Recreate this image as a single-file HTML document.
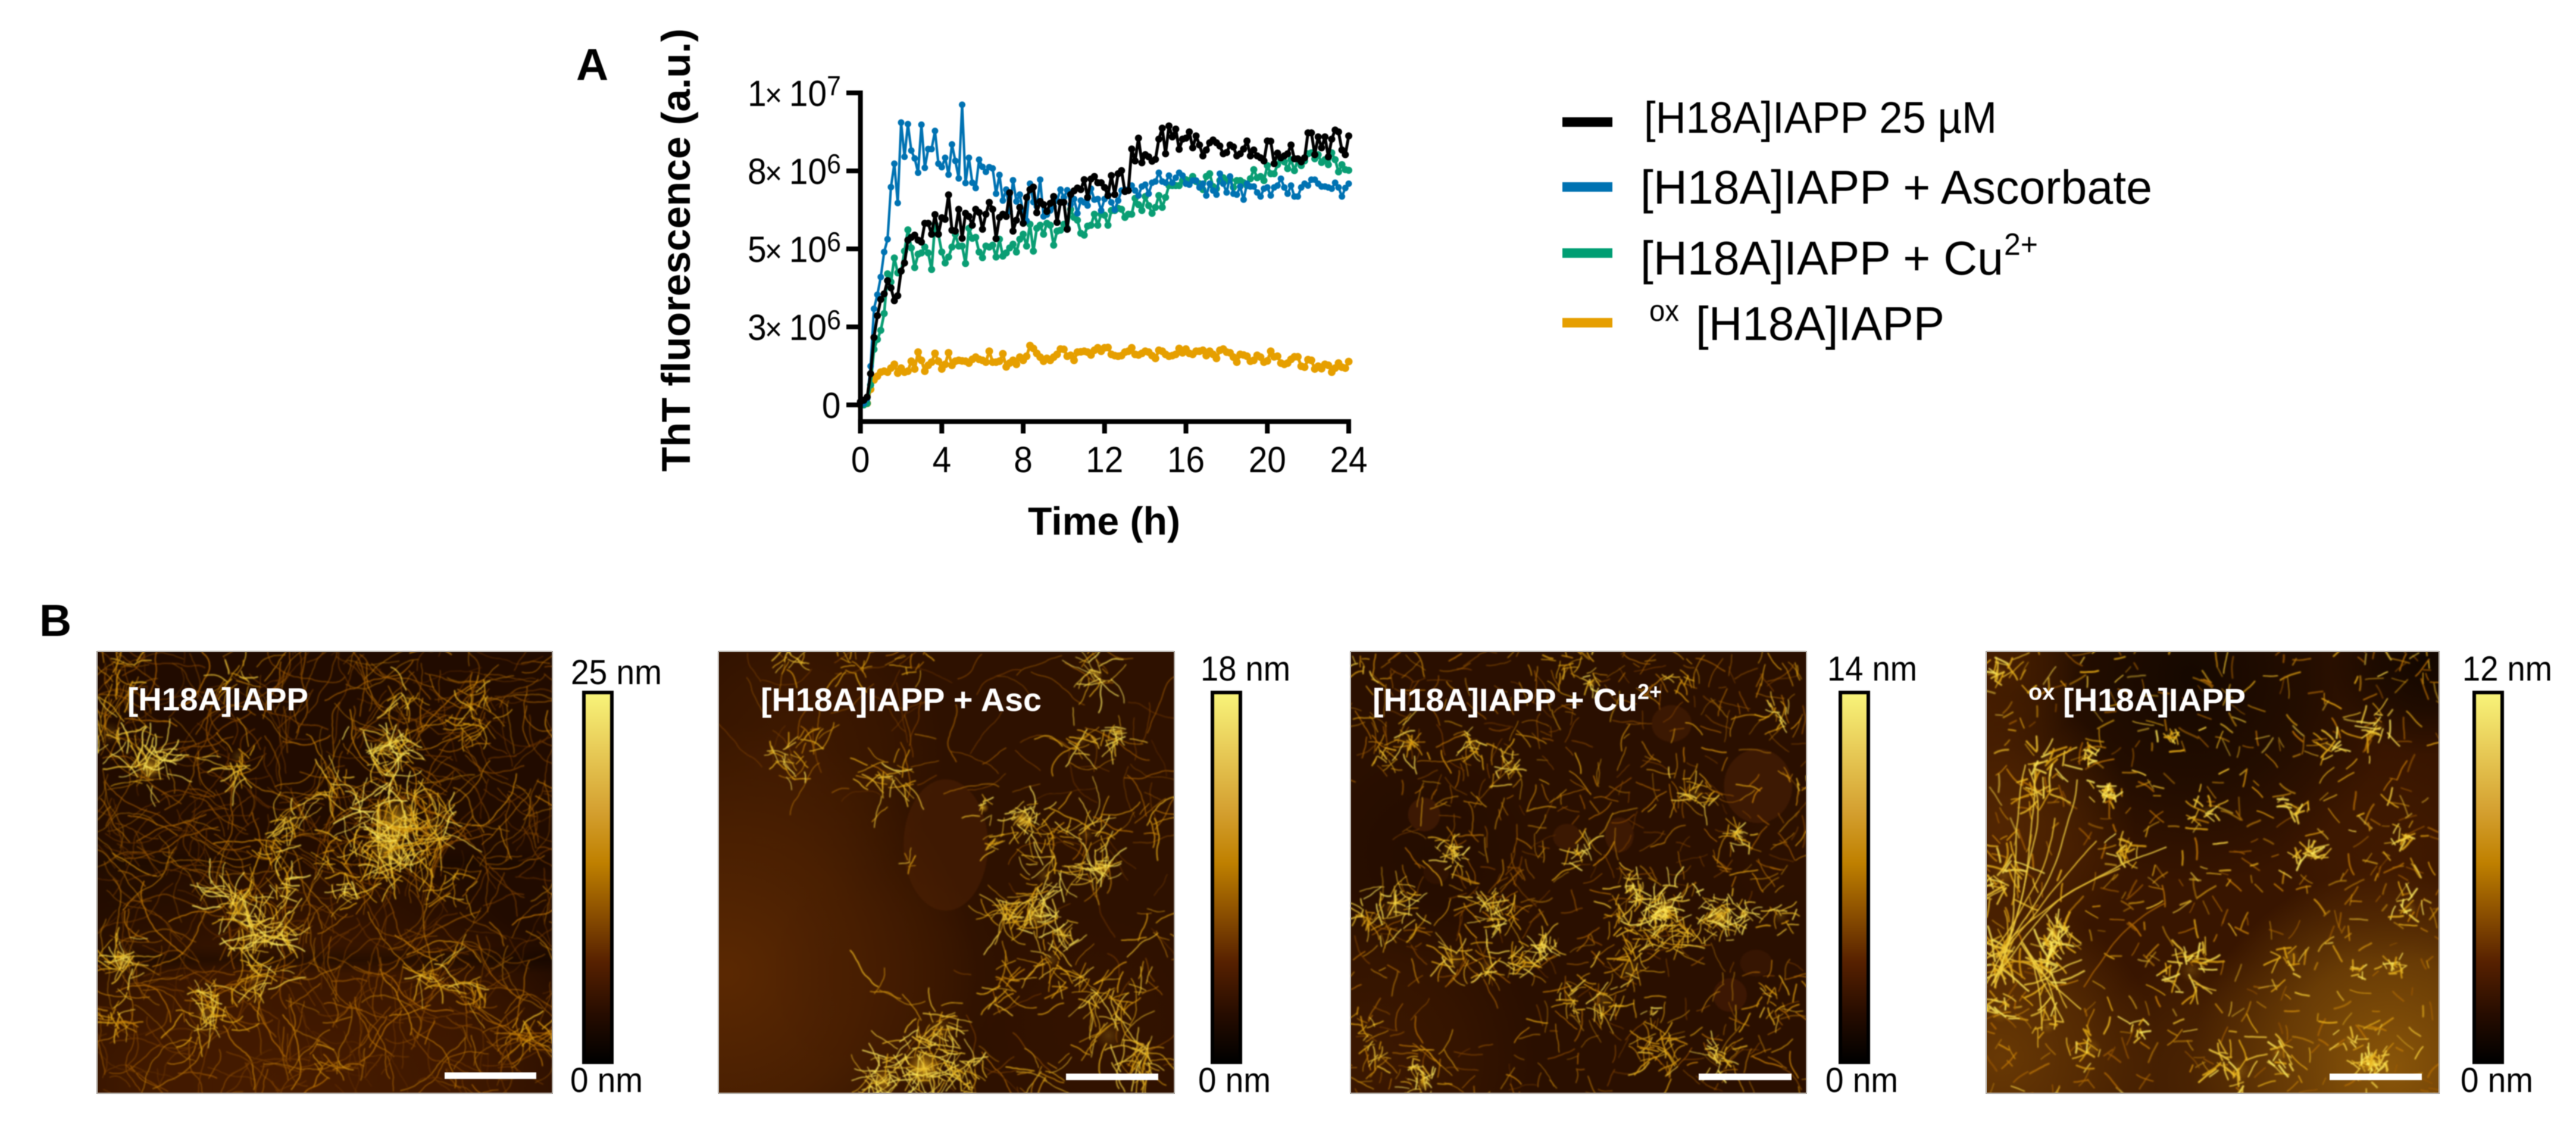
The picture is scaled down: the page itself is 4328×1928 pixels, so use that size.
<!DOCTYPE html>
<html lang="en">
<head>
<meta charset="utf-8">
<title>[H18A]IAPP ThT fluorescence and AFM panels</title>
<style>
html,body{margin:0;padding:0;background:#fff;}
#stage{position:relative;width:4328px;height:1928px;overflow:hidden;background:#fff;font-family:"Liberation Sans",Arial,sans-serif;}
canvas{position:absolute;display:block;filter:blur(1.1px);}
.frame{position:absolute;box-sizing:border-box;border:2px solid #b5b0aa;}
svg{position:absolute;left:0;top:0;filter:blur(0.8px);}
text{font-family:"Liberation Sans",Arial,sans-serif;}
</style>
</head>
<body>
<div id="stage">
  <canvas id="afm1" width="765" height="742" style="left:163px;top:1094px"></canvas>
  <canvas id="afm2" width="766" height="742" style="left:1207px;top:1094px"></canvas>
  <canvas id="afm3" width="766" height="742" style="left:2269px;top:1094px"></canvas>
  <canvas id="afm4" width="761" height="742" style="left:3337px;top:1094px"></canvas>
  <div class="frame" style="left:162px;top:1093px;width:767px;height:744px"></div>
  <div class="frame" style="left:1206px;top:1093px;width:768px;height:744px"></div>
  <div class="frame" style="left:2268px;top:1093px;width:768px;height:744px"></div>
  <div class="frame" style="left:3336px;top:1093px;width:763px;height:744px"></div>

  <svg id="fig" width="4328" height="1928" viewBox="0 0 4328 1928" xmlns="http://www.w3.org/2000/svg">
    <defs>
      <linearGradient id="cbar" x1="0" y1="0" x2="0" y2="1">
        <stop offset="0" stop-color="#f8f47a"/>
        <stop offset="0.15" stop-color="#e8cc58"/>
        <stop offset="0.32" stop-color="#d4a030"/>
        <stop offset="0.46" stop-color="#bf8000"/>
        <stop offset="0.6" stop-color="#8a4e00"/>
        <stop offset="0.73" stop-color="#562000"/>
        <stop offset="0.87" stop-color="#260c00"/>
        <stop offset="1" stop-color="#000"/>
      </linearGradient>
    </defs>

    <text x="968" y="134" font-size="75" font-weight="700">A</text>
    <text x="66" y="1068" font-size="75" font-weight="700">B</text>

    <g id="chart"></g>

    <text transform="translate(1159,420) rotate(-90)" text-anchor="middle" font-size="68" font-weight="700">ThT fluorescence (a.u.)</text>
    <text x="1855" y="898" text-anchor="middle" font-size="66" font-weight="700" textLength="256" lengthAdjust="spacingAndGlyphs">Time (h)</text>

    <g>
      <rect x="2625" y="197" width="84" height="16" fill="#000"/>
      <text x="2762" y="223" font-size="74" textLength="593" lengthAdjust="spacingAndGlyphs">[H18A]IAPP 25 µM</text>
      <rect x="2625" y="306" width="84" height="16" fill="#0072b2"/>
      <text x="2756" y="342" font-size="80" textLength="860" lengthAdjust="spacingAndGlyphs">[H18A]IAPP + Ascorbate</text>
      <rect x="2625" y="417" width="84" height="16" fill="#009e73"/>
      <text x="2756" y="461" font-size="80" textLength="610" lengthAdjust="spacingAndGlyphs">[H18A]IAPP + Cu</text>
      <text x="3367" y="428" font-size="52" textLength="57" lengthAdjust="spacingAndGlyphs">2+</text>
      <rect x="2625" y="534" width="84" height="16" fill="#e69f00"/>
      <text x="2771" y="539" font-size="50" textLength="50" lengthAdjust="spacingAndGlyphs">ox</text>
      <text x="2849" y="571" font-size="80" textLength="418" lengthAdjust="spacingAndGlyphs">[H18A]IAPP</text>
    </g>

    <!-- panel 1 -->
    <text x="214" y="1193" font-size="54" font-weight="700" fill="#fff" textLength="304" lengthAdjust="spacingAndGlyphs">[H18A]IAPP</text>
    <rect x="747" y="1801" width="154" height="11" fill="#fff"/>
    <rect x="981" y="1163" width="47" height="621" fill="url(#cbar)" stroke="#000" stroke-width="6"/>
    <text x="959" y="1149" font-size="58" textLength="153" lengthAdjust="spacingAndGlyphs">25 nm</text>
    <text x="958" y="1834" font-size="58" textLength="122" lengthAdjust="spacingAndGlyphs">0 nm</text>

    <!-- panel 2 -->
    <text x="1278" y="1194" font-size="55" font-weight="700" fill="#fff" textLength="472" lengthAdjust="spacingAndGlyphs">[H18A]IAPP + Asc</text>
    <rect x="1791" y="1803" width="155" height="11" fill="#fff"/>
    <rect x="2037" y="1163" width="47" height="621" fill="url(#cbar)" stroke="#000" stroke-width="6"/>
    <text x="2017" y="1143" font-size="58" textLength="151" lengthAdjust="spacingAndGlyphs">18 nm</text>
    <text x="2013" y="1834" font-size="58" textLength="122" lengthAdjust="spacingAndGlyphs">0 nm</text>

    <!-- panel 3 -->
    <text x="2306" y="1194" font-size="54" font-weight="700" fill="#fff" textLength="445" lengthAdjust="spacingAndGlyphs">[H18A]IAPP + Cu</text>
    <text x="2751" y="1174" font-size="36" font-weight="700" fill="#fff">2+</text>
    <rect x="2854" y="1803" width="156" height="11" fill="#fff"/>
    <rect x="3092" y="1163" width="47" height="621" fill="url(#cbar)" stroke="#000" stroke-width="6"/>
    <text x="3070" y="1143" font-size="58" textLength="151" lengthAdjust="spacingAndGlyphs">14 nm</text>
    <text x="3067" y="1834" font-size="58" textLength="122" lengthAdjust="spacingAndGlyphs">0 nm</text>

    <!-- panel 4 -->
    <text x="3408" y="1175" font-size="38" font-weight="700" fill="#fff">ox</text>
    <text x="3466" y="1194" font-size="54" font-weight="700" fill="#fff" textLength="307" lengthAdjust="spacingAndGlyphs">[H18A]IAPP</text>
    <rect x="3914" y="1803" width="155" height="11" fill="#fff"/>
    <rect x="4157" y="1163" width="47" height="621" fill="url(#cbar)" stroke="#000" stroke-width="6"/>
    <text x="4137" y="1143" font-size="58" textLength="151" lengthAdjust="spacingAndGlyphs">12 nm</text>
    <text x="4134" y="1834" font-size="58" textLength="122" lengthAdjust="spacingAndGlyphs">0 nm</text>
  </svg>
</div>

<script>
/* ---------- chart data (units of 1e6 a.u., one reading every 10 min) ---------- */
var xTicks = [0, 4, 8, 12, 16, 20, 24];
var yTicks = [0, 2.5, 5, 7.5, 10];
var yTickMantissa = ['0', '3', '5', '8', '1'];
var yTickExponent = ['', '6', '6', '6', '7'];
var seriesNames = ['oxidised', 'copper', 'ascorbate', 'h18a'];

var h18aValues = [0.1,0.15,0.25,1.0,2.16,2.86,3.38,3.56,3.98,3.75,3.34,3.5,4.29,4.55,5.28,5.37,5.44,5.28,5.22,5.82,5.82,5.47,6.1,5.47,6.0,5.95,6.73,5.6,5.57,6.27,5.34,6.14,6.04,5.76,6.27,6.17,5.63,6.11,6.49,6.27,5.33,6.01,6.11,6.04,6.8,5.57,5.92,6.33,5.82,6.65,6.9,6.98,6.16,6.52,6.42,6.2,6.46,6.68,5.85,6.49,6.49,5.63,6.74,6.86,6.95,6.9,7.22,6.65,7.24,7.32,7.12,7.12,6.97,6.71,7.35,6.74,7.41,7.51,6.84,6.87,8.2,7.82,8.55,7.76,8.02,7.95,7.81,7.87,8.52,8.87,8.05,8.94,8.59,8.84,8.19,8.52,8.55,8.75,8.24,8.62,8.33,7.98,8.17,8.4,8.49,8.4,8.3,8.05,8.09,8.33,8.27,7.98,8.05,8.2,8.46,7.98,8.17,7.98,7.92,7.82,8.46,8.45,7.73,8.07,7.92,7.98,8.05,8.33,7.89,7.89,7.79,7.92,8.72,8.72,8.02,8.59,8.24,8.59,7.95,8.52,8.81,8.75,8.17,8.02,8.62];

var ascorbateValues = [0.0,0.05,0.2,1.24,3.08,3.53,4.1,4.9,5.31,6.98,7.73,6.47,9.05,7.95,9.0,8.15,7.9,7.44,8.98,7.6,8.2,8.2,8.78,7.73,7.62,7.92,7.38,8.35,7.82,7.26,9.62,7.11,7.92,7.12,6.95,7.86,7.63,7.47,7.62,7.58,6.77,7.37,6.55,6.9,6.2,7.2,6.52,6.74,6.17,5.9,7.09,6.5,6.36,7.22,6.04,6.1,6.23,6.36,6.55,6.9,6.65,6.88,6.42,6.6,6.14,6.55,6.49,6.39,6.93,6.58,6.6,6.23,6.6,6.74,6.49,6.25,6.55,6.87,6.9,6.87,7.03,6.87,6.71,7.0,7.06,6.77,7.12,7.16,7.44,7.16,7.12,7.35,7.12,7.28,7.44,7.35,7.09,7.06,7.19,7.19,6.97,7.09,6.71,7.09,6.87,6.74,7.41,7.09,6.81,7.32,6.77,6.74,7.0,6.58,7.09,7.0,7.0,6.81,6.68,6.93,6.97,6.71,6.97,7.03,7.25,6.97,6.77,7.03,6.68,6.68,6.97,7.09,7.03,7.22,7.22,7.09,7.0,7.0,6.97,6.93,7.12,6.97,6.68,6.95,7.09];

var copperValues = [0.0,0.0,0.05,0.64,1.78,2.1,2.39,2.93,4.2,3.94,4.71,4.23,4.29,4.93,5.61,5.03,4.4,4.83,4.87,5.06,4.87,4.34,5.79,5.47,4.9,4.55,4.74,5.06,5.47,5.09,5.09,4.53,5.66,5.34,5.37,4.9,4.72,5.09,5.06,5.12,4.74,5.31,4.77,4.87,5.03,5.15,4.9,5.31,5.47,5.09,5.79,4.93,5.66,5.76,5.47,5.82,5.76,5.12,5.57,5.6,5.79,5.66,6.27,6.01,5.92,5.5,5.44,5.73,5.76,6.11,5.76,6.11,6.08,5.76,6.23,6.23,6.3,6.27,6.01,6.11,6.11,6.62,6.42,6.23,6.68,6.39,6.14,6.33,6.71,6.33,6.65,7.03,7.03,7.03,7.03,7.19,7.22,7.19,7.32,7.16,7.09,6.9,7.32,7.41,7.0,6.93,7.19,7.28,7.19,7.22,6.97,7.19,7.19,7.12,7.03,7.25,7.54,7.28,7.32,7.19,7.67,7.41,7.41,7.7,7.86,7.79,7.57,7.86,7.51,7.86,7.67,7.82,8.05,8.08,7.89,8.02,7.77,7.86,7.7,8.08,7.86,7.47,7.7,7.54,7.52];

var oxidisedValues = [0.0,0.03,0.05,0.5,0.8,0.92,1.05,1.08,1.05,1.18,1.3,1.02,1.18,1.05,1.08,1.4,1.15,1.69,1.43,1.08,1.27,1.37,1.65,1.4,1.15,1.3,1.67,1.27,1.4,1.43,1.41,1.4,1.34,1.46,1.53,1.46,1.43,1.37,1.72,1.37,1.37,1.4,1.64,1.22,1.34,1.43,1.3,1.53,1.43,1.56,1.9,1.81,1.65,1.53,1.4,1.49,1.43,1.53,1.62,1.79,1.78,1.56,1.59,1.43,1.69,1.7,1.72,1.69,1.6,1.75,1.83,1.72,1.83,1.84,1.62,1.58,1.56,1.58,1.69,1.72,1.83,1.62,1.6,1.65,1.72,1.69,1.58,1.49,1.75,1.72,1.62,1.56,1.58,1.62,1.81,1.67,1.79,1.65,1.62,1.72,1.72,1.75,1.58,1.72,1.62,1.49,1.75,1.79,1.69,1.67,1.53,1.37,1.62,1.6,1.56,1.4,1.43,1.59,1.53,1.37,1.41,1.72,1.54,1.56,1.34,1.3,1.34,1.46,1.54,1.54,1.24,1.21,1.45,1.43,1.15,1.24,1.16,1.3,1.27,1.05,1.18,1.34,1.21,1.18,1.39];

var seriesColors = ['#e69f00', '#0a9e74', '#0072b2', '#000000'];
var seriesWidths = [5, 4.6, 4.2, 5];
var seriesRadii = [6.5, 6, 5.5, 6];
var seriesValues = [oxidisedValues, copperValues, ascorbateValues, h18aValues];

var HOURS_MAX = 24;
var VALUE_MAX = 10;
var PLOT_LEFT = 1445.6, PLOT_RIGHT = 2266, PLOT_ZERO = 680, PLOT_TOP = 156;

function xScale(h) { return PLOT_LEFT + (PLOT_RIGHT - PLOT_LEFT) * h / HOURS_MAX; }
function yScale(v) { return PLOT_ZERO - (PLOT_ZERO - PLOT_TOP) * v / VALUE_MAX; }

var SVGNS = 'http://www.w3.org/2000/svg';
var chart = document.getElementById('chart');

function svgEl(tag, attrs) {
  var node = document.createElementNS(SVGNS, tag);
  for (var k in attrs) node.setAttribute(k, attrs[k]);
  return node;
}

seriesValues.forEach(function (vals, s) {
  var group = svgEl('g', {});
  
  
  var step = HOURS_MAX / (vals.length - 1);
  var pts = vals.map(function (v, i) { return xScale(i * step).toFixed(1) + ',' + yScale(v).toFixed(1); }).join(' ');
  var line = svgEl('polyline', { points: pts, fill: 'none', stroke: seriesColors[s], 'stroke-width': seriesWidths[s], 'stroke-linejoin': 'round' });
  
  
  group.appendChild(line);
  vals.forEach(function (v, i) {
    var dot = svgEl('circle', { cx: xScale(i * step).toFixed(1), cy: yScale(v).toFixed(1), r: seriesRadii[s], fill: seriesColors[s] });
    
    
    group.appendChild(dot);
  });
  chart.appendChild(group);
});

/* axes */
var yAxis = svgEl('rect', { x: PLOT_LEFT - 4, y: yScale(VALUE_MAX) - 4, width: 8, height: 728 - yScale(VALUE_MAX) + 4, fill: '#000' });


chart.appendChild(yAxis);
var xAxis = svgEl('rect', { x: PLOT_LEFT - 4, y: 704, width: PLOT_RIGHT - PLOT_LEFT + 8, height: 8, fill: '#000' });


chart.appendChild(xAxis);

xTicks.forEach(function (t) {
  var tick = svgEl('rect', { x: xScale(t) - 4, y: 704, width: 8, height: 24, fill: '#000' });
  
  
  chart.appendChild(tick);
  var lab = svgEl('text', { transform: 'translate(' + xScale(t) + ',793) scale(0.93,1)', 'text-anchor': 'middle', 'font-size': 61 });
  lab.textContent = String(t);
  
  
  chart.appendChild(lab);
});

yTicks.forEach(function (t, i) {
  var yy = yScale(t);
  var tick = svgEl('rect', { x: 1422, y: yy - 4, width: 24, height: 8, fill: '#000' });
  
  
  chart.appendChild(tick);
  var g = svgEl('text', { transform: 'translate(1418,' + (yy + 22) + ') scale(0.93,1)', 'font-size': 61 });
  
  
  if (yTickExponent[i] === '') {
    g.setAttribute('x', -6);
    g.setAttribute('text-anchor', 'end');
    g.textContent = yTickMantissa[i];
  } else {
    var m = svgEl('tspan', { x: -174 });
    m.textContent = yTickMantissa[i];
    var cross = svgEl('tspan', { x: -143, 'font-size': 54 });
    cross.textContent = '\u00d7';
    var ten = svgEl('tspan', { x: -99 });
    ten.textContent = '10';
    var sup = svgEl('tspan', { x: -31, dy: -18, 'font-size': 46 });
    sup.textContent = yTickExponent[i];
    g.appendChild(m); g.appendChild(cross); g.appendChild(ten); g.appendChild(sup);
  }
  chart.appendChild(g);
});

/* ---------- AFM micrograph textures (procedural fibril rendering) ---------- */
function mulberry(seed) {
  return function () {
    seed |= 0; seed = seed + 0x6D2B79F5 | 0;
    var t = Math.imul(seed ^ seed >>> 15, 1 | seed);
    t = t + Math.imul(t ^ t >>> 7, 61 | t) ^ t;
    return ((t ^ t >>> 14) >>> 0) / 4294967296;
  };
}
function cmap(t) {
  var stops = [[0, 40, 14, 0], [0.3, 116, 58, 2], [0.55, 180, 108, 4], [0.8, 226, 168, 20], [1, 255, 236, 96]];
  for (var i = 1; i < stops.length; i++) {
    if (t <= stops[i][0]) {
      var a = stops[i - 1], b = stops[i], f = (t - a[0]) / (b[0] - a[0]);
      return 'rgb(' + Math.round(a[1] + (b[1] - a[1]) * f) + ',' + Math.round(a[2] + (b[2] - a[2]) * f) + ',' + Math.round(a[3] + (b[3] - a[3]) * f) + ')';
    }
  }
  return 'rgb(255,236,96)';
}
function fiber(ctx, rnd, x, y, ang, len, wob, w, t, alpha) {
  ctx.beginPath();
  ctx.moveTo(x, y);
  var step = 6, n = Math.max(2, Math.round(len / step)), drift = (rnd() - 0.5) * Math.min(0.14, 1.6 / n);
  for (var i = 0; i < n; i++) {
    ang += drift + (rnd() - 0.5) * wob;
    x += Math.cos(ang) * step;
    y += Math.sin(ang) * step;
    ctx.lineTo(x, y);
  }
  ctx.lineWidth = w;
  ctx.strokeStyle = cmap(t);
  ctx.globalAlpha = alpha;
  ctx.stroke();
  ctx.globalAlpha = 1;
}
function gauss(rnd) { return rnd() + rnd() + rnd() + rnd() - 2; }

function renderAfm(cfg) {
  var cv = document.getElementById(cfg.id), ctx = cv.getContext('2d'), W = cv.width, H = cv.height;
  var rnd = mulberry(cfg.seed);
  var sx = W / cfg.crop[2], sy = H / cfg.crop[3];
  var nScale = cfg.nScale || 0.6, lenScale = cfg.lenScale || 0.6;
  function px(zx) { return (zx - cfg.crop[0]) * sx; }
  function py(zy) { return (zy - cfg.crop[1]) * sy; }
  ctx.fillStyle = cfg.base;
  ctx.fillRect(0, 0, W, H);
  ctx.lineCap = 'round';
  ctx.lineJoin = 'round';
  cfg.glows.forEach(function (g) {
    var cx = px(g[0]), cy = py(g[1]), r = g[2] * sx;
    var grd = ctx.createRadialGradient(cx, cy, 0, cx, cy, r);
    grd.addColorStop(0, g[3]);
    grd.addColorStop(0.55, g[3].replace(/[\d.]+\)$/, function (m) { return (parseFloat(m) * 0.6) + ')'; }));
    grd.addColorStop(1, g[3].replace(/[\d.]+\)$/, '0)'));
    ctx.fillStyle = grd;
    ctx.fillRect(0, 0, W, H);
  });
  (cfg.bands || []).forEach(function (b) {
    var y0 = py(b[0]), y1 = py(b[1]);
    var grd = ctx.createLinearGradient(0, y0, 0, y1);
    grd.addColorStop(0, 'rgba(0,0,0,0)');
    grd.addColorStop(0.5, b[2]);
    grd.addColorStop(1, 'rgba(0,0,0,0)');
    ctx.fillStyle = grd;
    ctx.fillRect(0, y0, W, y1 - y0);
  });
  (cfg.vesicles || []).forEach(function (e) {
    ctx.beginPath();
    ctx.ellipse(px(e[0]), py(e[1]), e[2] * sx, e[3] * sy, 0, 0, Math.PI * 2);
    ctx.fillStyle = e[4];
    ctx.fill();
  });
  var A = cfg.ambient;
  for (var i = 0; i < A.count; i++) {
    var x = rnd() * W, y = rnd() * H;
    if (cfg.mask && cfg.mask(x / W, y / H, rnd)) continue;
    fiber(ctx, rnd, x, y, rnd() * Math.PI * 2, A.lenMin + rnd() * (A.lenMax - A.lenMin), A.wob, A.w * (0.7 + rnd() * 0.6), A.tMin + rnd() * (A.tMax - A.tMin), 0.5 + rnd() * 0.45);
  }
  cfg.clusters.forEach(function (c) {
    var cx = px(c[0]), cy = py(c[1]), r = c[2] * sx, n = Math.round(c[3] * nScale), len = c[4] * lenScale, tb = c[5];
    if (tb > 0.85) {
      var grd = ctx.createRadialGradient(cx, cy, 0, cx, cy, r * 0.6);
      grd.addColorStop(0, 'rgba(246,196,44,' + (c[6] || 0.2) + ')');
      grd.addColorStop(1, 'rgba(220,150,10,0)');
      ctx.fillStyle = grd;
      ctx.fillRect(cx - r, cy - r, r * 2, r * 2);
    }
    for (var j = 0; j < n; j++) {
      var xx = cx + gauss(rnd) * r, yy = cy + gauss(rnd) * r;
      fiber(ctx, rnd, xx, yy, rnd() * Math.PI * 2, len * (0.45 + rnd()), A.wob * 1.1, A.w * (0.75 + rnd() * 0.7), Math.min(1, tb - 0.2 + rnd() * 0.28), 0.85);
    }
  });
  (cfg.strands || []).forEach(function (s) {
    for (var k = 0; k < s[5]; k++) {
      fiber(ctx, rnd, px(s[0]) + (rnd() - 0.5) * 16, py(s[1]) + (rnd() - 0.5) * 16, s[2], s[3], 0.12, 2.2, s[4], 0.9);
    }
  });
}

renderAfm({
  id: 'afm1', seed: 11, crop: [220, 188, 1034, 1228], base: '#210b00', nScale: 0.75, lenScale: 0.72,
  glows: [[700, 1440, 620, 'rgba(76,30,0,0.9)'], [300, 1380, 420, 'rgba(80,32,0,0.45)'], [1050, 1380, 380, 'rgba(72,28,0,0.5)'], [300, 800, 300, 'rgba(40,16,0,0.45)']],
  bands: [[1005, 1085, 'rgba(0,0,0,0.32)'], [740, 810, 'rgba(0,0,0,0.15)']],
  ambient: { count: 780, lenMin: 40, lenMax: 170, wob: 0.62, w: 1.7, tMin: 0.2, tMax: 0.68 },
  clusters: [
    [340, 510, 50, 45, 70, 1, 0.7], [250, 415, 45, 24, 60, 0.9], [880, 450, 50, 46, 60, 0.95, 0.4], [900, 660, 85, 85, 70, 1, 0.6],
    [880, 735, 70, 70, 65, 0.95, 0.5], [985, 680, 55, 34, 70, 0.88], [545, 900, 50, 48, 65, 0.98, 0.5], [580, 985, 45, 42, 70, 0.98, 0.4],
    [640, 950, 35, 22, 50, 0.95], [280, 1045, 45, 30, 60, 0.95, 0.5], [470, 1190, 50, 46, 65, 0.9], [250, 1205, 35, 26, 45, 0.82],
    [975, 1085, 30, 24, 70, 0.88], [575, 1100, 40, 30, 70, 0.88], [790, 860, 24, 22, 50, 0.95], [655, 855, 22, 18, 40, 0.95],
    [1075, 1150, 30, 20, 70, 0.82], [1200, 1265, 35, 22, 60, 0.78], [660, 660, 35, 24, 55, 0.9], [760, 555, 50, 26, 55, 0.85],
    [540, 480, 32, 22, 55, 0.9], [930, 320, 24, 14, 45, 0.88], [1090, 330, 35, 18, 50, 0.8], [1050, 410, 30, 16, 50, 0.8],
    [530, 260, 35, 18, 45, 0.85], [280, 240, 50, 24, 55, 0.78], [1040, 830, 40, 20, 55, 0.8], [770, 760, 35, 18, 55, 0.85],
    [730, 1320, 45, 14, 60, 0.72], [620, 730, 30, 16, 55, 0.88]
  ]
});

renderAfm({
  id: 'afm2', seed: 23, crop: [70, 96, 1133, 1310], base: '#2e1100', nScale: 0.75, lenScale: 0.68,
  glows: [[90, 1050, 620, 'rgba(112,52,4,0.68)'], [260, 400, 380, 'rgba(80,34,2,0.5)'], [500, 1050, 300, 'rgba(70,28,0,0.4)'], [1000, 1200, 300, 'rgba(56,20,0,0.5)']],
  vesicles: [[635, 670, 105, 195, 'rgba(80,34,4,0.5)']],
  ambient: { count: 170, lenMin: 30, lenMax: 110, wob: 0.5, w: 1.6, tMin: 0.24, tMax: 0.66 },
  mask: function (u, v) {
    if (u < 0.55 && v > 0.35 && v < 0.72) return true;
    if (u < 0.34 && v >= 0.72) return true;
    if (u < 0.06) return true;
    if (u < 0.5 && v >= 0.72 && v < 0.85) return true;
    return false;
  },
  clusters: [
    [580, 1330, 75, 100, 55, 1, 0.8], [480, 1370, 50, 50, 45, 1, 0.55], [670, 1340, 45, 36, 45, 0.95], [620, 1220, 60, 44, 60, 0.9],
    [825, 595, 40, 40, 42, 1, 0.85], [730, 560, 20, 12, 32, 1, 0.6], [760, 660, 20, 14, 32, 0.92], [1020, 740, 38, 44, 55, 1, 0.7],
    [860, 880, 50, 44, 50, 1, 0.55], [920, 930, 28, 20, 40, 1, 0.6], [800, 880, 48, 30, 85, 0.88], [880, 760, 40, 30, 60, 0.92],
    [1065, 335, 28, 26, 38, 1, 0.7], [1010, 165, 26, 24, 60, 1, 0.5], [970, 360, 30, 20, 75, 0.88], [985, 640, 28, 16, 85, 0.92],
    [240, 420, 40, 30, 46, 0.95], [490, 470, 48, 36, 58, 0.9], [300, 370, 35, 14, 55, 0.78], [240, 120, 40, 18, 48, 0.85],
    [400, 130, 45, 20, 48, 0.78], [560, 130, 30, 14, 42, 0.78], [900, 1010, 36, 22, 55, 0.86], [800, 1080, 45, 26, 70, 0.8],
    [970, 1100, 60, 34, 70, 0.84], [1040, 1235, 60, 30, 90, 0.9], [1130, 1290, 40, 22, 70, 0.88], [1110, 1340, 32, 18, 50, 0.85],
    [880, 1340, 30, 18, 55, 0.8], [900, 630, 38, 22, 40, 0.82], [1130, 600, 40, 14, 80, 0.75], [1160, 920, 30, 12, 70, 0.82],
    [1100, 1120, 40, 18, 55, 0.82], [1000, 100, 40, 12, 40, 0.85], [540, 720, 14, 8, 28, 0.82], [465, 1100, 12, 5, 110, 0.8]
  ]
});

renderAfm({
  id: 'afm3', seed: 37, crop: [72, 96, 1133, 1310], base: '#2a0f00', nScale: 0.75, lenScale: 0.7,
  glows: [[120, 1300, 420, 'rgba(72,30,2,0.6)'], [1180, 700, 200, 'rgba(50,20,0,0.35)'], [260, 700, 260, 'rgba(24,8,0,0.3)']],
  vesicles: [[1085, 495, 85, 110, 'rgba(70,30,4,0.7)'], [255, 580, 40, 50, 'rgba(72,30,4,0.65)'], [870, 310, 50, 55, 'rgba(72,30,4,0.6)'], [740, 640, 36, 52, 'rgba(72,30,4,0.65)'], [610, 645, 35, 38, 'rgba(72,30,4,0.6)'], [1015, 1115, 42, 50, 'rgba(70,28,4,0.65)'], [285, 750, 32, 36, 'rgba(60,24,2,0.5)'], [1080, 1020, 40, 40, 'rgba(66,28,4,0.5)']],
  ambient: { count: 820, lenMin: 14, lenMax: 56, wob: 0.5, w: 1.8, tMin: 0.3, tMax: 0.8 },
  mask: function (u, v) {
    if (v > 0.77 && v < 0.87 && u > 0.15 && u < 0.42) return true;
    if (u > 0.82 && v > 0.55 && v < 0.72) return true;
    if (v > 0.72 && v < 0.83 && u > 0.6 && u < 0.78) return true;
    if (u < 0.12 && v > 0.3 && v < 0.55) return true;
    return false;
  },
  clusters: [
    [990, 880, 45, 70, 30, 1, 0.95], [1050, 875, 22, 24, 26, 1, 0.8], [850, 860, 50, 70, 40, 1, 0.75], [770, 800, 28, 32, 28, 1, 0.5],
    [830, 925, 40, 28, 38, 0.95], [745, 885, 30, 22, 38, 0.9], [905, 930, 40, 22, 42, 0.85], [550, 970, 26, 34, 30, 1, 0.7],
    [180, 860, 55, 44, 44, 0.95], [110, 890, 30, 22, 32, 0.86], [430, 860, 48, 42, 36, 0.96], [320, 690, 36, 34, 32, 0.95],
    [1130, 280, 22, 18, 28, 0.95], [210, 370, 34, 24, 38, 0.9], [135, 400, 30, 14, 28, 0.82], [470, 440, 35, 22, 38, 0.9],
    [380, 370, 30, 20, 34, 0.92], [650, 690, 30, 24, 34, 0.95], [670, 190, 20, 14, 26, 1, 0.55], [620, 130, 45, 22, 30, 0.82],
    [700, 1130, 50, 30, 36, 0.88], [620, 1130, 35, 20, 30, 0.9], [850, 1270, 50, 36, 52, 0.85], [985, 1300, 30, 30, 30, 0.98, 0.45],
    [255, 1375, 30, 28, 26, 1, 0.7], [240, 1330, 22, 12, 26, 0.95], [140, 1300, 30, 14, 34, 0.86], [110, 1220, 34, 16, 34, 0.84],
    [1040, 640, 30, 24, 32, 0.95], [930, 520, 36, 26, 34, 0.92], [510, 1020, 38, 26, 40, 0.9], [770, 1040, 50, 26, 40, 0.88],
    [1120, 1140, 50, 24, 36, 0.84], [1140, 880, 35, 20, 30, 0.88], [330, 1010, 40, 24, 44, 0.88], [410, 1030, 32, 16, 36, 0.9],
    [820, 1165, 12, 8, 18, 1, 0.6], [100, 150, 25, 12, 28, 0.85], [900, 180, 40, 16, 30, 0.82], [1190, 500, 30, 12, 28, 0.82]
  ]
});

renderAfm({
  id: 'afm4', seed: 53, crop: [85, 96, 1139, 1310], base: '#381500', nScale: 0.8, lenScale: 0.6,
  glows: [[1100, 1330, 500, 'rgba(158,102,12,0.8)'], [600, 170, 520, 'rgba(18,7,0,0.9)'], [1190, 120, 240, 'rgba(8,3,0,0.8)'], [120, 1300, 400, 'rgba(130,76,8,0.65)'], [120, 620, 340, 'rgba(104,52,4,0.55)'], [650, 1360, 320, 'rgba(100,56,6,0.45)'], [140, 150, 200, 'rgba(90,42,2,0.5)'], [1100, 700, 280, 'rgba(76,32,2,0.45)']],
  ambient: { count: 660, lenMin: 10, lenMax: 38, wob: 0.24, w: 2.5, tMin: 0.42, tMax: 0.95 },
  clusters: [
    [255, 935, 32, 52, 30, 1, 0.95], [235, 1040, 35, 30, 60, 0.95], [130, 760, 50, 34, 70, 0.95], [130, 1000, 40, 30, 85, 0.92],
    [600, 1040, 55, 36, 40, 0.96], [395, 505, 28, 32, 24, 1, 0.7], [240, 420, 30, 24, 40, 0.95], [215, 520, 30, 18, 55, 0.9],
    [895, 695, 25, 26, 32, 1, 0.6], [1050, 1320, 38, 46, 30, 1, 0.7], [720, 1340, 50, 28, 44, 0.96], [440, 680, 30, 20, 34, 0.95],
    [1070, 320, 32, 18, 46, 0.95], [120, 160, 30, 18, 36, 0.95], [865, 565, 24, 18, 28, 0.96], [1135, 650, 28, 18, 30, 0.96],
    [640, 570, 30, 14, 26, 0.95], [1110, 1040, 30, 16, 28, 0.96], [350, 400, 18, 14, 20, 1, 0.5], [940, 380, 30, 14, 34, 0.96],
    [120, 1170, 40, 20, 36, 0.96], [820, 1290, 35, 16, 30, 0.96], [350, 1270, 40, 16, 38, 0.96], [470, 1220, 22, 14, 26, 0.96],
    [240, 1210, 30, 10, 30, 0.92], [1000, 1250, 30, 10, 24, 0.92], [1020, 1040, 20, 10, 24, 0.95], [550, 340, 22, 12, 22, 0.96],
    [1150, 860, 35, 14, 30, 0.95], [850, 1000, 40, 12, 34, 0.92]
  ],
  strands: [[95, 1080, -1.1, 380, 0.92, 5], [100, 1000, -0.85, 260, 0.88, 3], [180, 970, 0.95, 150, 0.92, 4], [330, 1080, -0.95, 200, 0.5, 1]]
});
</script>
</body>
</html>
